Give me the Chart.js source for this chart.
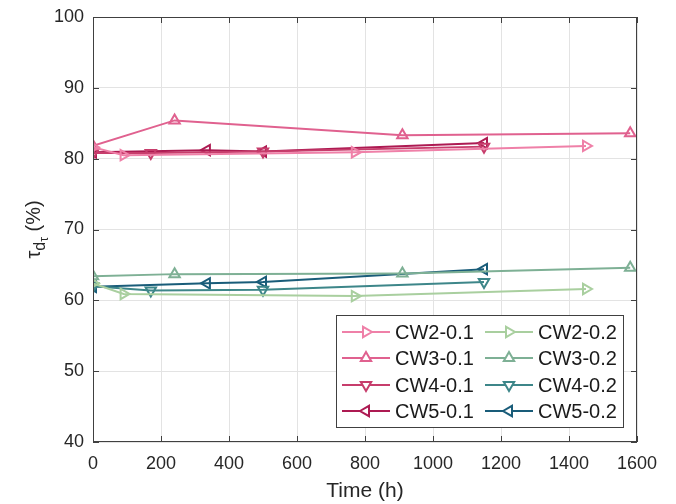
<!DOCTYPE html>
<html>
<head>
<meta charset="utf-8">
<script src="https://cdn.jsdelivr.net/npm/chart.js@4/dist/chart.umd.min.js"></script>
<style>
html,body{margin:0;padding:0;background:#fff}
#wrap{width:676px;height:504px}
</style>
</head>
<body>
<div id="wrap"><canvas id="c" width="676" height="504"></canvas></div>
<script>
// time points (h) for each specimen group
const cw2Time = [0, 90, 770, 1450]
const cw3Time = [0, 240, 910, 1580]
const cw4Time = [0, 170, 500, 1150]
const cw5Time = [0, 335, 500, 1150]

// tau values (%)
const cw2_01 = [81.6, 80.5, 80.9, 81.8]
const cw3_01 = [81.8, 85.4, 83.3, 83.6]
const cw4_01 = [80.8, 80.8, 81.0, 81.7]
const cw5_01 = [80.9, 81.2, 81.0, 82.2]
const cw2_02 = [62.4, 60.9, 60.6, 61.6]
const cw3_02 = [63.4, 63.7, 63.8, 64.6]
const cw4_02 = [62.0, 61.4, 61.5, 62.6]
const cw5_02 = [61.9, 62.4, 62.6, 64.4]

const labels = ["CW2-0.1","CW3-0.1","CW4-0.1","CW5-0.1","CW2-0.2","CW3-0.2","CW4-0.2","CW5-0.2"]
const colors = ["#ef80a8","#e0618f","#c73d6c","#ad1a52","#a9cf9f","#7eb095","#3d8689","#195c79"]
const rotations = [90,0,180,270,90,0,180,270]
const times = [cw2Time,cw3Time,cw4Time,cw5Time,cw2Time,cw3Time,cw4Time,cw5Time]
const values = [cw2_01,cw3_01,cw4_01,cw5_01,cw2_02,cw3_02,cw4_02,cw5_02]

const xTicks = [0,200,400,600,800,1000,1200,1400,1600]
const yTicks = [40,50,60,70,80,90,100]

const FONT = "'Liberation Sans', Arial, Helvetica, sans-serif"
const AXIS = "#262626"

const datasets = labels.map((lab,i)=>({
  label: lab,
  data: times[i].map((t,j)=>({x:t,y:values[i][j]})),
  borderColor: colors[i],
  backgroundColor: "rgba(255,255,255,0)",
  borderWidth: 2,
  pointStyle: "triangle",
  pointRotation: rotations[i],
  pointRadius: 6,
  pointBorderWidth: 2,
  pointBackgroundColor: "rgba(255,255,255,0)",
  tension: 0
}))

// box, inward ticks, y title and legend drawn like matlab does
const matlabBits = {
  id: "matlabBits",
  afterDraw(chart){
    const c = chart.ctx
    const a = chart.chartArea
    const xs = chart.scales.x, ys = chart.scales.y
    c.save()
    c.strokeStyle = "#404040"
    c.lineWidth = 1
    c.strokeRect(a.left+0.5, a.top+0.5, a.right-a.left-1, a.bottom-a.top-1)
    c.beginPath()
    xTicks.forEach(v=>{
      const px = Math.round(xs.getPixelForValue(v))+0.5
      c.moveTo(px,a.bottom); c.lineTo(px,a.bottom-6)
      c.moveTo(px,a.top); c.lineTo(px,a.top+6)
    })
    yTicks.forEach(v=>{
      const py = Math.round(ys.getPixelForValue(v))+0.5
      c.moveTo(a.left,py); c.lineTo(a.left+6,py)
      c.moveTo(a.right,py); c.lineTo(a.right-6,py)
    })
    c.stroke()

    // y title: tau with subscript d_tau
    c.fillStyle = AXIS
    c.translate(34,(a.top+a.bottom)/2)
    c.rotate(-Math.PI/2)
    c.textBaseline = "alphabetic"
    const parts = [
      {t:"\u03c4", s:20, dy:0},
      {t:"d", s:16, dy:5},
      {t:"\u03c4", s:12, dy:8},
      {t:" (%)", s:20, dy:0}
    ]
    let w = 0
    parts.forEach(p=>{c.font = p.s+"px "+FONT; w += c.measureText(p.t).width})
    let x0 = -w/2
    parts.forEach(p=>{
      c.font = p.s+"px "+FONT
      c.fillText(p.t,x0,p.dy+6)
      x0 += c.measureText(p.t).width
    })
    c.restore()

    // legend
    c.save()
    const bx = 336, by = 315, bw = 287, bh = 112
    c.fillStyle = "#fff"
    c.fillRect(bx,by,bw,bh)
    c.strokeStyle = "#404040"
    c.lineWidth = 1
    c.strokeRect(bx+0.5,by+0.5,bw,bh)
    const rowY = [332,358,385,411]
    const colX = [342,485]
    c.font = "20px "+FONT
    c.textBaseline = "middle"
    chart.data.datasets.forEach((ds,i)=>{
      const col = i<4?0:1, row = i%4
      const x = colX[col], y = rowY[row]
      c.strokeStyle = ds.borderColor
      c.lineWidth = 2
      c.beginPath(); c.moveTo(x,y); c.lineTo(x+48,y); c.stroke()
      c.fillStyle = "#fff"
      Chart.helpers.drawPoint(c,{pointStyle:"triangle",rotation:ds.pointRotation,radius:6,borderWidth:2},x+24,y)
      c.fillStyle = "#1a1a1a"
      c.fillText(ds.label,x+53,y+1)
    })
    c.restore()
  }
}

new Chart(document.getElementById("c"),{
  type:"line",
  data:{datasets},
  options:{
    responsive:false,
    animation:false,
    layout:{padding:{top:17,right:39,left:0,bottom:0}},
    plugins:{legend:{display:false},tooltip:{enabled:false}},
    scales:{
      x:{
        type:"linear", min:0, max:1600,
        afterBuildTicks(s){s.ticks = xTicks.map(v=>({value:v}))},
        grid:{color:"#e3e3e3",drawTicks:false},
        border:{display:false},
        ticks:{color:AXIS,font:{size:18,family:FONT},padding:11,maxRotation:0,callback:v=>String(v)},
        title:{display:true,text:"Time (h)",color:AXIS,font:{size:21,family:FONT},padding:{top:0,bottom:0}},
        afterFit(s){s.height = 62; s.paddingLeft = 0; s.paddingRight = 0}
      },
      y:{
        min:40, max:100,
        afterBuildTicks(s){s.ticks = yTicks.map(v=>({value:v}))},
        grid:{color:"#e3e3e3",drawTicks:false},
        border:{display:false},
        ticks:{color:AXIS,font:{size:18,family:FONT},padding:9,callback:v=>String(v)},
        afterFit(s){s.width = 93; s.paddingTop = 0; s.paddingBottom = 0}
      }
    }
  },
  plugins:[matlabBits]
})
</script>
</body>
</html>
